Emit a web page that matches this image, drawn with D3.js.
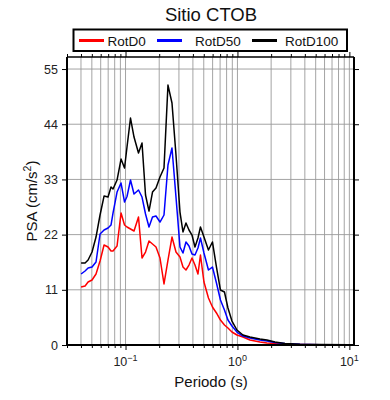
<!DOCTYPE html>
<html><head><meta charset="utf-8">
<script src="https://cdn.jsdelivr.net/npm/d3@7"></script>
<style>body{margin:0;background:#fff}svg{display:block;font-family:"Liberation Sans",Arial,sans-serif}</style>
</head><body><svg id="c" width="390" height="400"></svg>
<script>
const title = "Sitio CTOB";
const xLabel = "Periodo (s)";
const seriesNames = ["RotD0", "RotD50", "RotD100"];
const seriesColors = ["#ff0000", "#0000ff", "#000000"];
const yTicks = [0, 11, 22, 33, 44, 55];
const xMajorTicks = [0.1, 1, 10];
const xMajorExp = ["\u22121", "0", "1"];
const periods = [0.0401,0.0435,0.0463,0.0502,0.0545,0.0592,0.0643,0.0698,0.0742,0.0773,
 0.0840,0.0912,0.0980,0.1031,0.1108,0.1191,0.1306,0.1404,0.1509,0.1621,
 0.1742,0.1872,0.2032,0.2207,0.2395,0.2601,0.2824,0.3066,0.3261,0.3468,
 0.3690,0.3925,0.4174,0.4439,0.4673,0.5022,0.5508,0.5979,0.6494,0.7050,
 0.7655,0.8226,0.8932,0.9897,1.120,1.293,1.588,1.834,2.162,2.656,
 3.614,5.453,10.0];
const rotD0 = [11.56,11.76,12.55,12.95,14.15,16.74,19.93,19.53,18.73,18.73,
 19.73,26.30,23.91,23.52,23.12,22.72,25.51,17.34,18.53,20.73,
 20.13,19.53,17.34,12.16,16.94,21.52,18.53,17.54,15.54,14.95,
 15.94,17.34,15.94,14.15,17.94,12.55,9.37,7.57,6.38,4.98,
 3.99,3.39,2.59,1.99,1.59,1.00,0.60,0.40,0.30,0.16,
 0.08,0.04,0.02];
const rotD50 = [14.15,14.75,15.34,15.54,16.54,22.12,22.92,23.32,23.91,26.30,
 30.49,32.28,28.50,29.60,32.88,30.09,30.89,29.49,26.11,23.52,
 25.51,25.71,24.51,25.91,35.87,39.26,29.49,19.53,18.33,20.53,
 19.73,18.13,17.94,19.33,21.32,18.33,14.95,15.54,12.36,8.97,
 6.98,4.98,3.79,2.59,1.79,1.39,1.00,0.80,0.50,0.30,
 0.14,0.06,0.04];
const rotD100 = [16.34,16.34,16.94,18.53,21.52,25.91,29.69,29.49,31.49,31.09,
 32.88,37.06,35.27,39.46,45.24,41.45,38.26,40.25,29.89,26.70,
 30.49,31.29,33.48,35.27,51.81,48.23,37.86,26.50,22.52,24.31,
 22.92,21.92,19.53,21.32,23.52,21.52,18.93,20.53,15.54,10.96,
 10.56,7.37,4.78,2.99,1.99,1.59,1.20,1.00,0.60,0.30,
 0.16,0.08,0.04];
const seriesValues = [rotD0, rotD50, rotD100];

const svg = d3.select("#c");
const L = 67, R = 354, T = 57, B = 345;
const x = d3.scaleLog().domain([0.03, 11]).range([L, R]);
const y = d3.scaleLinear().domain([0, 57.4]).range([B, T]);

// minor tick values
const minor = [];
for (let e = -2; e <= 1; e++) for (let m = 1; m <= 9; m++) {
  const v = m * Math.pow(10, e);
  if (v >= 0.03 && v <= 11) minor.push(v);
}

// grid
const g = svg.append("g");
g.selectAll("line.vg").data(minor.filter(v => v > 0.031)).join("line")
  .attr("x1", d => x(d)).attr("x2", d => x(d)).attr("y1", T).attr("y2", B)
  .attr("stroke", "#9a9a9a").attr("stroke-width", 0.9);
g.selectAll("line.hg").data(yTicks.filter(v => v > 0)).join("line")
  .attr("x1", L).attr("x2", R).attr("y1", d => y(d)).attr("y2", d => y(d))
  .attr("stroke", "#9a9a9a").attr("stroke-width", 0.9);

// curves
const line = d3.line().x((d, i) => x(periods[i])).y(d => y(d));
[0, 1, 2].forEach(k => {
  svg.append("path").datum(seriesValues[k]).attr("d", line)
    .attr("fill", "none").attr("stroke", seriesColors[k]).attr("stroke-width", 1.5)
    .attr("stroke-linejoin", "round");
});

// axes ticks
const isMajor = v => xMajorTicks.some(t => Math.abs(t - v) < 1e-9);
const xb = d3.axisBottom(x).tickValues(minor).tickFormat("").tickSizeOuter(0);
const ax = svg.append("g").attr("transform", `translate(0,${B})`).call(xb);
ax.selectAll(".tick line").attr("y2", d => isMajor(d) ? 5 : 3);
ax.select(".domain").remove();
const at = svg.append("g").attr("transform", `translate(0,${T})`).call(d3.axisTop(x).tickValues(minor).tickFormat("").tickSizeOuter(0));
at.selectAll(".tick line").attr("y2", d => isMajor(d) ? -5 : -3);
at.select(".domain").remove();

const ay = svg.append("g").attr("transform", `translate(${L},0)`)
  .call(d3.axisLeft(y).tickValues(yTicks).tickSize(5).tickSizeOuter(0).tickPadding(4));
ay.select(".domain").remove();
ay.selectAll("text").attr("font-size", 12.5).attr("fill", "#222").attr("font-family", "Liberation Sans, Arial, sans-serif");
const ar = svg.append("g").attr("transform", `translate(${R},0)`)
  .call(d3.axisRight(y).tickValues(yTicks).tickSize(5).tickFormat(""));
ar.select(".domain").remove();

// x tick labels with superscripts
xMajorTicks.forEach((v, i) => {
  const t = svg.append("text").attr("x", x(v)).attr("y", 366).attr("text-anchor", "middle")
    .attr("font-size", 12.5).attr("fill", "#222");
  t.append("tspan").text("10");
  t.append("tspan").attr("dy", -5).attr("font-size", 9).text(xMajorExp[i]);
});

// frame
svg.append("line").attr("x1", L).attr("x2", R).attr("y1", T).attr("y2", T).attr("stroke", "#000").attr("stroke-width", 1.3);
svg.append("path").attr("d", `M${L},${T}V${B}H${R}V${T}`).attr("fill", "none").attr("stroke", "#000").attr("stroke-width", 2);

// titles
svg.append("text").attr("x", 211).attr("y", 21).attr("text-anchor", "middle").attr("font-size", 18.5).attr("fill", "#111").text(title);
svg.append("text").attr("x", 211).attr("y", 387).attr("text-anchor", "middle").attr("font-size", 15).attr("fill", "#111").text(xLabel);
const yt = svg.append("text").attr("transform", `translate(37,${(T + B) / 2}) rotate(-90)`).attr("text-anchor", "middle")
  .attr("font-size", 15).attr("fill", "#111");
yt.append("tspan").text("PSA (cm/s");
yt.append("tspan").attr("dy", -6).attr("font-size", 10.5).text("2");
yt.append("tspan").attr("dy", 6).text(")");

// legend
svg.append("rect").attr("x", 73.5).attr("y", 29.5).attr("width", 273.5).attr("height", 21.5)
  .attr("fill", "#fff").attr("stroke", "#000").attr("stroke-width", 2);
const lx = [79, 157, 252], tx = [107.5, 195, 285];
seriesNames.forEach((n, i) => {
  svg.append("line").attr("x1", lx[i]).attr("x2", lx[i] + 25).attr("y1", 40.5).attr("y2", 40.5)
    .attr("stroke", seriesColors[i]).attr("stroke-width", 3);
  svg.append("text").attr("x", tx[i]).attr("y", 45.5).attr("font-size", 13.5).attr("fill", "#111").text(n);
});
</script></body></html>
